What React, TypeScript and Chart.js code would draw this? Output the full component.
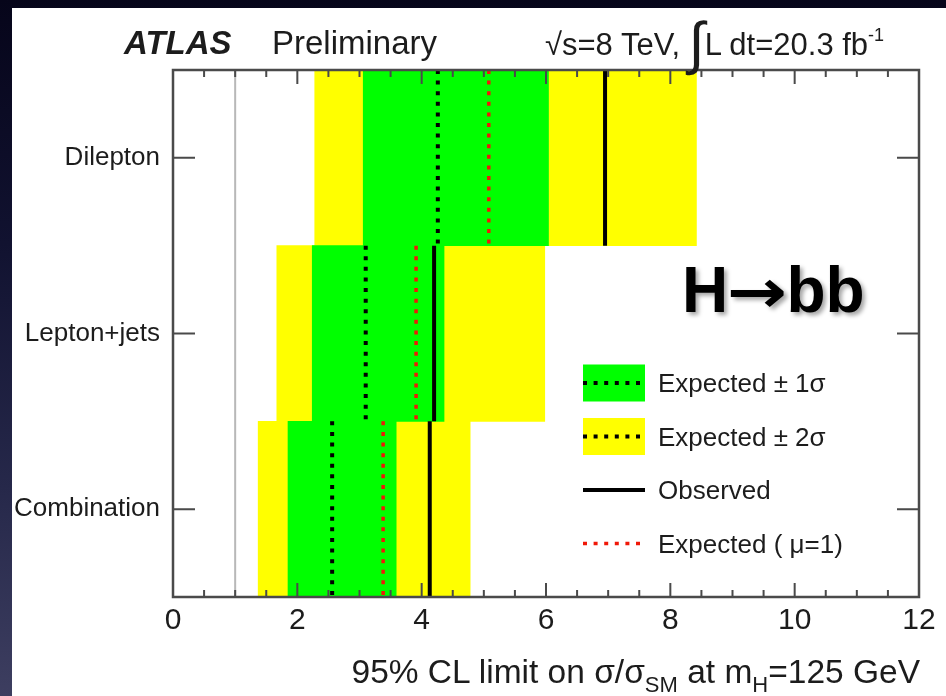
import React, { useEffect, useRef } from "react";
import { Chart, registerables } from "chart.js";

Chart.register(...registerables);

// Channels shown on the vertical axis (top to bottom)
const categories = ["Dilepton", "Lepton+jets", "Combination"];

// 95% CL upper limits on sigma/sigma_SM, per channel
const expected2SigmaLow = [2.28, 1.67, 1.37];
const expected2SigmaHigh = [8.42, 5.98, 4.78];
const expected1SigmaLow = [3.06, 2.24, 1.85];
const expected1SigmaHigh = [6.04, 4.36, 3.59];
const expectedMedian = [4.26, 3.1, 2.56];
const expectedMu1 = [5.08, 3.91, 3.38];
const observedLimit = [6.95, 4.2, 4.13];

// Horizontal axis
const xMin = 0;
const xMax = 12;
const xMajorStep = 2;
const xMinorStep = 0.5;
const smReference = 1;

const GREEN = "#00ff00";
const YELLOW = "#ffff00";
const RED = "#f01808";
const INK = "#1c1c1c";
const FRAME = "#4a4a4a";
const DOT_DASH = [4, 6.6];
const FONT = "'Liberation Sans', Arial, Helvetica, sans-serif";

const legendItems = [
  { label: "Expected ± 1σ", kind: "band", fill: GREEN },
  { label: "Expected ± 2σ", kind: "band", fill: YELLOW },
  { label: "Observed", kind: "solid", fill: "" },
  { label: "Expected ( μ=1)", kind: "red", fill: "" },
];
const legendBox = { left: 583, width: 62, height: 37, firstY: 383, rowGap: 53.5 };

// vertical segment per channel row: row i spans [i, i+1] on the hidden row axis
const rowSegments = (values: number[]) =>
  values.flatMap((v, i) => [
    { x: v, y: i },
    { x: v, y: i + 1 },
    { x: null, y: null },
  ]);

const frameAndTicks = {
  id: "frameAndTicks",
  beforeDatasetsDraw(chart: any) {
    const { ctx, chartArea: a, scales } = chart;
    const xs = scales.x.getPixelForValue(smReference);
    ctx.save();
    ctx.strokeStyle = "#b8b8b8";
    ctx.lineWidth = 2;
    ctx.beginPath();
    ctx.moveTo(xs, a.top);
    ctx.lineTo(xs, a.bottom);
    ctx.stroke();
    ctx.restore();
  },
  afterDatasetsDraw(chart: any) {
    const { ctx, chartArea: a, scales } = chart;
    ctx.save();
    ctx.strokeStyle = FRAME;
    ctx.lineWidth = 2.5;
    ctx.strokeRect(a.left, a.top, a.right - a.left, a.bottom - a.top);

    ctx.lineWidth = 2;
    ctx.beginPath();
    const nMinor = Math.round((xMax - xMin) / xMinorStep);
    for (let k = 1; k < nMinor; k++) {
      const v = xMin + k * xMinorStep;
      const major = Math.abs(v / xMajorStep - Math.round(v / xMajorStep)) < 1e-6;
      const len = major ? 14 : 7;
      const px = scales.x.getPixelForValue(v);
      ctx.moveTo(px, a.bottom);
      ctx.lineTo(px, a.bottom - len);
      ctx.moveTo(px, a.top);
      ctx.lineTo(px, a.top + len);
    }
    categories.forEach((_, i) => {
      const py = scales.y.getPixelForValue(i);
      ctx.moveTo(a.left, py);
      ctx.lineTo(a.left + 22, py);
      ctx.moveTo(a.right, py);
      ctx.lineTo(a.right - 22, py);
    });
    ctx.stroke();

    // legend swatches
    legendItems.forEach((item, i) => {
      const cy = legendBox.firstY + i * legendBox.rowGap;
      const x0 = legendBox.left;
      const x1 = legendBox.left + legendBox.width;
      if (item.kind === "band") {
        ctx.fillStyle = item.fill;
        ctx.fillRect(x0, cy - legendBox.height / 2, legendBox.width, legendBox.height);
      }
      ctx.beginPath();
      ctx.setLineDash(item.kind === "solid" ? [] : DOT_DASH);
      ctx.lineWidth = item.kind === "red" ? 3.5 : 4;
      ctx.strokeStyle = item.kind === "red" ? RED : "#000";
      ctx.moveTo(x0, cy);
      ctx.lineTo(x1, cy);
      ctx.stroke();
    });
    ctx.restore();
  },
};

export default function App() {
  const canvasRef = useRef<HTMLCanvasElement | null>(null);

  useEffect(() => {
    if (!canvasRef.current) return;
    const lineBase = {
      type: "line" as const,
      indexAxis: "x" as const,
      xAxisID: "x",
      yAxisID: "yRow",
      pointRadius: 0,
      pointHoverRadius: 0,
      fill: false,
      spanGaps: false,
      borderCapStyle: "butt" as const,
    };
    const chart = new Chart(canvasRef.current, {
      type: "bar",
      data: {
        labels: categories,
        datasets: [
          {
            label: "Observed",
            ...lineBase,
            data: rowSegments(observedLimit) as any,
            borderColor: "#000",
            borderWidth: 4,
            order: 1,
          },
          {
            label: "Expected",
            ...lineBase,
            data: rowSegments(expectedMedian) as any,
            borderColor: "#000",
            borderWidth: 4,
            borderDash: DOT_DASH,
            order: 1,
          },
          {
            label: "Expected (mu=1)",
            ...lineBase,
            data: rowSegments(expectedMu1) as any,
            borderColor: RED,
            borderWidth: 3.5,
            borderDash: DOT_DASH,
            order: 1,
          },
          {
            label: "Expected ± 1σ",
            type: "bar",
            data: expected1SigmaLow.map((lo, i) => [lo, expected1SigmaHigh[i]]) as any,
            backgroundColor: GREEN,
            borderWidth: 0,
            barPercentage: 1,
            categoryPercentage: 1,
            grouped: false,
            xAxisID: "x",
            yAxisID: "y",
            order: 2,
          },
          {
            label: "Expected ± 2σ",
            type: "bar",
            data: expected2SigmaLow.map((lo, i) => [lo, expected2SigmaHigh[i]]) as any,
            backgroundColor: YELLOW,
            borderWidth: 0,
            barPercentage: 1,
            categoryPercentage: 1,
            grouped: false,
            xAxisID: "x",
            yAxisID: "y",
            order: 3,
          },
        ],
      },
      options: {
        indexAxis: "y",
        animation: false,
        responsive: false,
        devicePixelRatio: 1,
        layout: { padding: { left: 0, top: 70, right: 27, bottom: 0 } },
        plugins: {
          legend: { display: false },
          tooltip: { enabled: false },
          title: { display: false },
        },
        scales: {
          x: {
            type: "linear",
            position: "bottom",
            min: xMin,
            max: xMax,
            offset: false,
            grid: { display: false, drawTicks: false, offset: false },
            border: { display: false },
            ticks: {
              stepSize: xMajorStep,
              maxRotation: 0,
              padding: 6,
              color: INK,
              font: { family: FONT, size: 30 },
            },
            afterFit(scale: any) {
              scale.height = 99;
            },
          },
          y: {
            type: "category",
            position: "left",
            offset: true,
            grid: { display: false, drawTicks: false },
            border: { display: false },
            ticks: {
              padding: 13,
              color: INK,
              font: { family: FONT, size: 26 },
            },
            afterFit(scale: any) {
              scale.width = 173;
            },
          },
          yRow: {
            type: "linear",
            position: "right",
            display: false,
            offset: false,
            grace: 0,
            grid: { offset: false },
            min: 0,
            max: categories.length,
            reverse: true,
          },
        },
      } as any,
      plugins: [frameAndTicks],
    });
    return () => chart.destroy();
  }, []);

  const text: React.CSSProperties = {
    position: "absolute",
    fontFamily: FONT,
    color: INK,
    whiteSpace: "nowrap",
    lineHeight: 1,
  };

  return (
    <div
      style={{
        position: "fixed",
        left: 0,
        top: 0,
        width: 946,
        height: 696,
        overflow: "hidden",
        background: "linear-gradient(to bottom, #06051a 0%, #111230 35%, #26284a 70%, #3d3e60 100%)",
      }}
    >
      <div style={{ position: "absolute", left: 12, top: 8, right: 0, bottom: 0, background: "#fff" }} />
      <canvas
        ref={canvasRef}
        width={946}
        height={696}
        style={{ position: "absolute", left: 0, top: 0, width: 946, height: 696 }}
      />
      <div style={{ ...text, left: 124, top: 26, fontSize: 33, fontWeight: 700, fontStyle: "italic" }}>ATLAS</div>
      <div style={{ ...text, left: 272, top: 26, fontSize: 33 }}>Preliminary</div>
      <div style={{ ...text, left: 545, top: 26, fontSize: 31 }}>
        √s=8 TeV,{" "}
        <span style={{ fontSize: 58, lineHeight: 0, verticalAlign: -8 }}>∫</span>L dt=20.3 fb
        <sup style={{ fontSize: 18, verticalAlign: 14 }}>-1</sup>
      </div>
      <div
        style={{
          ...text,
          left: 682,
          top: 258,
          fontSize: 64,
          fontWeight: 700,
          color: "#000",
          textShadow: "3px 3px 4px rgba(0,0,0,0.35)",
        }}
      >
        H
        <span
          style={{
            display: "inline-block",
            fontFamily: "'DejaVu Sans', sans-serif",
            fontWeight: 700,
            fontSize: 60,
            transform: "scaleX(1.2)",
            margin: "0 4px",
          }}
        >
          →
        </span>
        bb
      </div>
      {legendItems.map((item, i) => (
        <div
          key={item.label}
          style={{
            ...text,
            left: 658,
            top: legendBox.firstY + i * legendBox.rowGap - 13,
            fontSize: 26,
          }}
        >
          {item.label}
        </div>
      ))}
      <div style={{ ...text, right: 26, top: 655, fontSize: 33.5 }}>
        95% CL limit on σ/σ<sub style={{ fontSize: 22, verticalAlign: -9 }}>SM</sub> at m
        <sub style={{ fontSize: 22, verticalAlign: -9 }}>H</sub>=125 GeV
      </div>
    </div>
  );
}
